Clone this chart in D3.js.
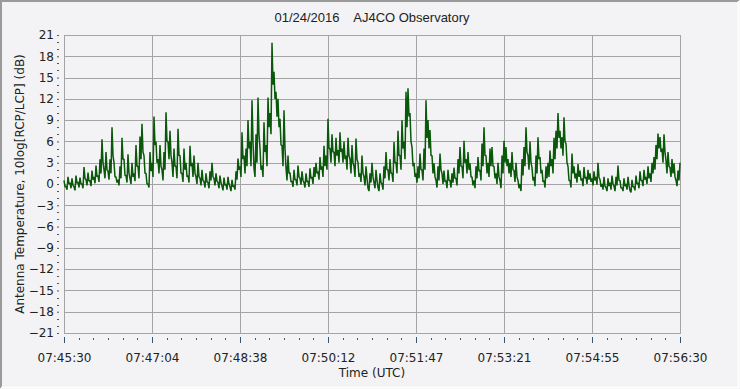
<!DOCTYPE html>
<html>
<head>
<meta charset="utf-8">
<script src="https://cdn.jsdelivr.net/npm/d3@7"></script>
<style>
  body { margin: 0; background: #f3f3f5; }
  svg { display: block; }
</style>
</head>
<body>
<div id="chart"></div>
<script>
// title and axis texts
var chartTitle = "01/24/2016    AJ4CO Observatory";
var xTitle = "Time (UTC)";
var yTitle = "Antenna Temperature, 10log[RCP/LCP] (dB)";

// time range of the recording (UTC)
var startTime = "2016-01-24T07:45:30Z";
var endTime = "2016-01-24T07:56:30Z";
var xTickLabels = ["07:45:30", "07:47:04", "07:48:38", "07:50:12", "07:51:47", "07:53:21", "07:54:55", "07:56:30"];
var yTickValues = [21, 18, 15, 12, 9, 6, 3, 0, -3, -6, -9, -12, -15, -18, -21];

// ratio in dB, evenly spaced from start to end:
// top of the noisy band in each slot ...
var ratioHigh = [
  0.5, -0.3, 1.0, 0.2, 0.8, -0.4, 1.2, 0.3, 0.9, 0.0,
  2.4, 0.6, 1.6, 0.5, 1.9, 1.0, 2.6, 1.2, 3.5, 6.3,
  2.0, 4.5, 1.8, 3.5, 8.0, 3.0, 1.0, 0.6, 2.5, 6.5,
  3.5, 1.2, 4.2, 0.8, 3.0, 1.5, 5.5, 2.5, 6.7, 8.5,
  4.0, 1.5, 0.0, 4.5, 3.0, 9.5, 6.0, 3.5, 5.5, 2.0,
  4.5, 10.1, 6.0, 7.5, 3.0, 5.0, 2.5, 7.8, 4.0, 1.5,
  5.0, 3.0, 1.2, 5.4, 3.0, 4.0, 1.0, 3.0, 0.8, 2.0,
  0.3, 1.5, 0.2, 1.8, 3.0, 0.8, 1.5, 0.2, 1.2, -0.3,
  0.9, 0.0, 1.0, -0.4, 0.6, -0.2, 1.8, 3.6, 2.5, 7.3,
  4.0, 5.0, 9.0, 6.0, 11.8, 2.2, 7.0, 12.2, 5.0, 2.6,
  8.7, 5.5, 12.2, 10.0, 19.9, 15.8, 13.0, 12.0, 9.2, 5.4,
  10.4, 2.3, 4.0, 1.6, 0.4, 2.0, 0.6, 2.6, 0.8, 1.8,
  0.2, 1.5, 0.4, 2.2, 1.0, 2.4, 3.0, 1.8, 3.8, 2.5,
  5.4, 4.0, 9.2, 5.0, 7.0, 4.5, 6.5, 4.8, 7.3, 5.0,
  6.0, 4.0, 6.5, 3.5, 5.5, 2.5, 6.4, 3.0, 1.5, 4.0,
  1.0, 2.5, -0.6, 1.5, 3.0, 0.2, 2.0, -0.5, 1.5, 0.0,
  2.5, 4.5, 2.0, 3.5, 1.5, 5.9, 3.0, 7.5, 4.0, 9.0,
  6.0, 13.0, 13.5, 10.0, 5.2, 3.0, 1.5, 2.5, 4.3, 2.0,
  5.0, 11.8, 9.0, 7.6, 4.0, 2.9, 0.5, 2.5, 4.3, 1.5,
  1.9, 0.5, 2.0, 0.5, 1.5, 2.3, 0.8, 3.5, 5.2, 2.5,
  6.1, 3.5, 4.5, 2.9, 1.0, 0.5, 2.5, 3.8, 2.0, 5.7,
  8.0, 4.0, 3.0, 5.0, 5.2, 2.5, 1.5, 3.0, 0.5, 4.0,
  6.1, 5.2, 3.5, 3.0, 4.5, 1.9, 3.0, 0.5, 0.0, 3.5,
  5.2, 8.0, 4.0, 6.0, 2.3, 1.0, 4.0, 6.6, 3.8, 2.0,
  0.5, 2.5, 3.0, 4.7, 3.5, 6.5, 7.5, 10.0, 7.5, 6.6,
  9.4, 5.7, 2.5, 0.5, 4.3, 2.5, 1.5, 2.8, 1.9, 0.8,
  2.4, 1.0, 2.0, 1.5, 0.8, 1.8, 1.0, 3.0, 0.6, 0.0,
  1.0, -0.5, 0.8, 0.2, 1.2, -0.3, 1.0, 2.6, 0.5, -0.5,
  0.8, 0.0, 1.0, -0.9, 0.6, -0.4, 1.2, 0.2, 1.8, 0.5,
  2.0, 1.0, 2.5, 1.5, 3.0, 3.8, 5.5, 7.1, 6.6, 5.0,
  7.0, 3.3, 4.5, 2.3, 3.5, 2.9, 0.5, 1.9, 3.0
];
// ... and bottom of the band in the same slots
var ratioLow = [
  -0.4, -0.8, 0.0, -0.6, -0.2, -0.9, 0.1, -0.5, 0.0, -0.6,
  0.8, -0.2, 0.4, -0.3, 0.6, 0.1, 1.0, 0.3, 1.5, 3.0,
  0.8, 2.0, 0.6, 1.5, 4.0, 1.0, 0.2, -0.2, 0.8, 3.5,
  1.2, 0.2, 1.5, 0.0, 1.0, 0.4, 2.5, 0.8, 3.5, 4.5,
  1.5, 0.0, -0.5, 1.8, 1.0, 5.5, 3.0, 1.5, 2.5, 0.5,
  2.0, 6.0, 3.5, 4.0, 1.0, 2.5, 0.8, 4.0, 1.5, 0.3,
  2.0, 1.0, 0.2, 2.5, 1.0, 1.5, 0.0, 1.0, -0.2, 0.5,
  -0.5, 0.3, -0.6, 0.5, 1.0, -0.2, 0.4, -0.6, 0.2, -0.9,
  -0.2, -0.8, 0.0, -1.0, -0.4, -0.8, 0.6, 2.0, 1.0, 3.5,
  1.5, 2.5, 5.0, 2.5, 6.0, 1.0, 3.0, 7.0, 2.0, 1.0,
  4.5, 2.5, 8.0, 7.0, 14.0, 12.0, 9.5, 8.0, 5.5, 2.5,
  5.0, 0.5, 1.5, 0.3, -0.4, 0.6, -0.2, 1.0, -0.1, 0.5,
  -0.5, 0.3, -0.4, 0.8, 0.0, 1.0, 1.5, 0.6, 2.0, 1.0,
  2.5, 2.0, 5.0, 3.0, 4.5, 2.5, 4.0, 3.0, 4.5, 3.0,
  3.5, 2.0, 4.0, 1.5, 3.0, 1.0, 3.5, 1.0, 0.3, 1.5,
  -0.2, 0.8, -1.0, 0.2, 1.0, -0.6, 0.5, -1.0, 0.2, -0.8,
  0.8, 2.0, 0.5, 1.5, 0.3, 3.0, 1.5, 4.0, 2.0, 5.0,
  3.5, 8.0, 9.5, 6.0, 2.5, 1.0, 0.2, 0.8, 2.0, 0.5,
  2.0, 6.5, 5.0, 4.0, 1.5, 1.0, -0.5, 0.5, 2.0, 0.0,
  0.3, -0.6, 0.5, -0.5, 0.2, 0.8, -0.2, 1.5, 2.5, 0.8,
  3.0, 1.5, 2.0, 1.0, -0.2, -0.6, 0.8, 1.8, 0.5, 2.5,
  4.0, 1.5, 1.0, 2.5, 2.5, 0.8, 0.0, 1.0, -0.6, 1.5,
  3.0, 2.5, 1.5, 1.0, 2.0, 0.3, 1.0, -0.6, -1.0, 1.2,
  2.5, 4.5, 2.0, 3.0, 0.5, -0.3, 1.5, 3.5, 1.5, 0.3,
  -0.5, 0.8, 1.0, 2.5, 1.5, 3.5, 5.0, 6.5, 5.0, 4.0,
  6.0, 3.0, 0.5, -0.5, 1.5, 0.8, 0.2, 1.0, 0.5, -0.3,
  0.8, 0.0, 0.6, 0.3, -0.2, 0.5, -0.1, 1.0, -0.4, -0.8,
  -0.3, -1.0, -0.3, -0.8, 0.0, -1.0, -0.2, 0.5, -0.6, -1.0,
  -0.3, -0.8, -0.2, -1.2, -0.4, -0.9, 0.0, -0.6, 0.5, -0.3,
  0.6, 0.0, 0.8, 0.3, 1.5, 2.0, 3.5, 5.0, 4.5, 3.0,
  4.5, 1.5, 2.5, 1.0, 1.5, 1.0, -0.3, 0.5, 1.5
];

var width = 740, height = 389;
var margin = {top: 35, right: 60, bottom: 56, left: 64};

var svg = d3.select("#chart").append("svg")
  .attr("width", width)
  .attr("height", height);

// outer frame (sunken look)
svg.append("rect").attr("x", 0).attr("y", 0).attr("width", width).attr("height", height)
  .attr("fill", "#f3f3f5");
svg.append("path").attr("d", "M1," + (height - 1) + "V1H" + (width - 1))
  .attr("fill", "none").attr("stroke", "#9a9a9a").attr("stroke-width", 2);
svg.append("path").attr("d", "M1," + (height - 1.5) + "H" + (width - 1.5) + "V1")
  .attr("fill", "none").attr("stroke", "#ffffff").attr("stroke-width", 1.5);

var t0 = new Date(startTime), t1 = new Date(endTime);

var x = d3.scaleTime()
  .domain([t0, t1])
  .range([margin.left, width - margin.right]);

var y = d3.scaleLinear()
  .domain([-21, 21])
  .range([height - margin.bottom, margin.top]);

// each slot gives two samples: its top, then its bottom half a slot later
var step = (t1 - t0) / (ratioHigh.length - 1);
var data = [];
ratioHigh.forEach(function(v, i) {
  data.push({t: new Date(+t0 + i * step), v: v});
  if (i < ratioHigh.length - 1) {
    data.push({t: new Date(+t0 + (i + 0.5) * step), v: ratioLow[i]});
  }
});

// tick positions: evenly split the range into 7 parts
var majorTimes = xTickLabels.map(function(d, i) {
  return new Date(+t0 + i * (t1 - t0) / (xTickLabels.length - 1));
});
var minorTimes = [];
for (var i = 0; i < majorTimes.length - 1; i++) {
  for (var k = 1; k < 6; k++) {
    minorTimes.push(new Date(+majorTimes[i] + k * (majorTimes[i + 1] - majorTimes[i]) / 6));
  }
}

// grid
var grid = svg.append("g").attr("class", "grid");
grid.selectAll(".hgrid")
  .data(yTickValues)
  .enter().append("line")
  .attr("x1", margin.left).attr("x2", width - margin.right)
  .attr("y1", function(d) { return Math.round(y(d)) + 0.5; })
  .attr("y2", function(d) { return Math.round(y(d)) + 0.5; })
  .attr("stroke", "#a4a4a4").attr("stroke-width", 1);
grid.selectAll(".vgrid")
  .data(majorTimes)
  .enter().append("line")
  .attr("x1", function(d) { return Math.round(x(d)) + 0.5; })
  .attr("x2", function(d) { return Math.round(x(d)) + 0.5; })
  .attr("y1", margin.top).attr("y2", height - margin.bottom)
  .attr("stroke", "#a4a4a4").attr("stroke-width", 1);

// plot border
svg.append("rect")
  .attr("x", margin.left + 0.5).attr("y", margin.top + 0.5)
  .attr("width", width - margin.left - margin.right)
  .attr("height", height - margin.top - margin.bottom)
  .attr("fill", "none").attr("stroke", "#a4a4a4");

// trace
var line = d3.line()
  .x(function(d) { return x(d.t); })
  .y(function(d) { return y(d.v); });

svg.append("path")
  .datum(data)
  .attr("d", line)
  .attr("fill", "none")
  .attr("stroke", "#0a580a")
  .attr("stroke-width", 1.5)
  .attr("stroke-linejoin", "bevel");

// x axis
var xAxisY = height - margin.bottom + 4;
var xAxis = svg.append("g").attr("transform", "translate(0," + xAxisY + ")");
xAxis.call(d3.axisBottom(x).tickValues(majorTimes).tickSize(6).tickPadding(10)
  .tickFormat(function(d, i) { return xTickLabels[i]; }));
xAxis.select(".domain").remove();
xAxis.selectAll(".tick line").attr("stroke", "#2f5473");
xAxis.selectAll("text")
  .attr("font-family", "DejaVu Sans").attr("font-size", 12).attr("fill", "#222");
xAxis.selectAll(".minor")
  .data(minorTimes)
  .enter().append("line")
  .attr("class", "minor")
  .attr("x1", function(d) { return Math.round(x(d)) + 0.5; })
  .attr("x2", function(d) { return Math.round(x(d)) + 0.5; })
  .attr("y1", 1).attr("y2", 3)
  .attr("stroke", "#555");

// y axis
var yAxis = svg.append("g").attr("transform", "translate(" + (margin.left - 5) + ",0)");
yAxis.call(d3.axisLeft(y).tickValues(yTickValues).tickSize(2).tickPadding(3));
yAxis.select(".domain").remove();
yAxis.selectAll(".tick line").attr("stroke", "#555");
yAxis.selectAll("text")
  .attr("font-family", "DejaVu Sans").attr("font-size", 12).attr("fill", "#222");
yAxis.selectAll(".minor")
  .data(d3.range(-21, 22).filter(function(d) { return d % 3 !== 0; }))
  .enter().append("line")
  .attr("class", "minor")
  .attr("x1", -2).attr("x2", 0)
  .attr("y1", function(d) { return Math.round(y(d)) + 0.5; })
  .attr("y2", function(d) { return Math.round(y(d)) + 0.5; })
  .attr("stroke", "#555");

// titles
svg.append("text")
  .attr("x", 372).attr("y", 22)
  .attr("text-anchor", "middle")
  .attr("font-family", "Liberation Sans").attr("font-size", 13)
  .attr("fill", "#222")
  .style("white-space", "pre")
  .text(chartTitle);

svg.append("text")
  .attr("x", 372).attr("y", 377)
  .attr("text-anchor", "middle")
  .attr("font-family", "DejaVu Sans").attr("font-size", 12)
  .attr("fill", "#222")
  .text(xTitle);

svg.append("text")
  .attr("transform", "translate(24,184) rotate(-90)")
  .attr("text-anchor", "middle")
  .attr("font-family", "DejaVu Sans").attr("font-size", 12)
  .attr("fill", "#222")
  .text(yTitle);
</script>
</body>
</html>
